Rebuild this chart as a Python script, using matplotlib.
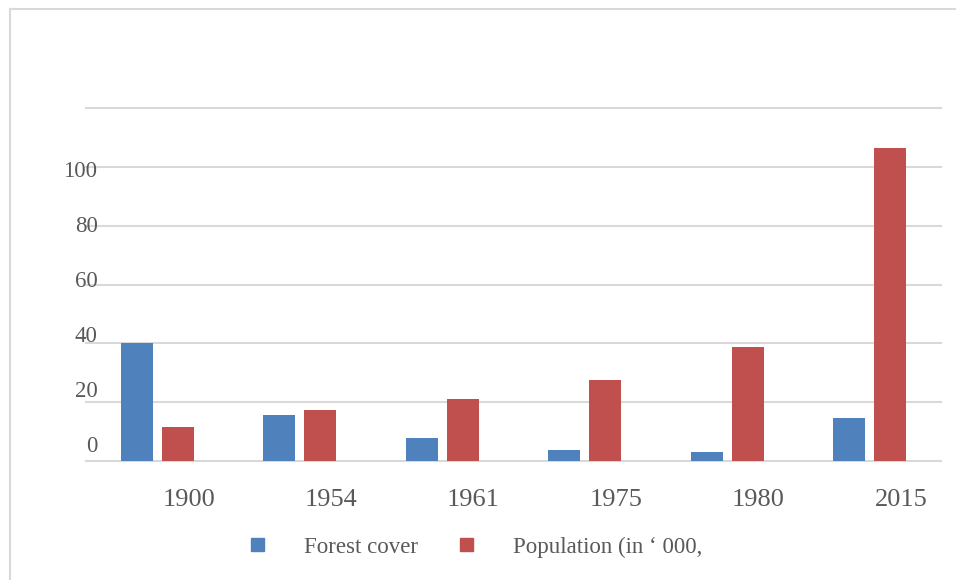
import numpy as np
import matplotlib
matplotlib.use('Agg')
import matplotlib.pyplot as plt
from matplotlib.patches import Patch
from matplotlib.lines import Line2D

plt.rcParams['font.family'] = ['Liberation Serif', 'DejaVu Serif']

years = ['1900', '1954', '1961', '1975', '1980', '2015']
forest_cover = [40, 15.7, 7.8, 4, 3, 14.7]
population = [11.7, 17.5, 21, 27.5, 38.8, 106.2]
ytick_vals = [0, 20, 40, 60, 80, 100]

BLUE = '#4F81BD'
RED = '#C0504D'
TEXT = '#595959'
GRID = '#D9D9D9'

fig = plt.figure(figsize=(9.56, 5.8), dpi=100)
ax = fig.add_axes([86 / 956, 1 - 461.3 / 580, 855 / 956, (461.3 - 107.7) / 580])

x = np.arange(len(years))
w = 0.2246
off = 0.144
ax.bar(x - off, forest_cover, w, color=BLUE, zorder=3)
ax.bar(x + off, population, w, color=RED, zorder=3)

ax.set_xlim(-0.5, len(years) - 0.5)
ax.set_ylim(0, 120)

# horizontal gridlines
for g in range(0, 121, 20):
    ax.axhline(g, color=GRID, lw=1.5, zorder=1, clip_on=False)

for s in ax.spines.values():
    s.set_visible(False)

ax.set_yticks([])
# y labels sit a little off their gridlines, as in the original
for v in ytick_vals:
    ax.text(0.0135, v * 0.935 + 4.9, str(v), transform=ax.get_yaxis_transform(),
            ha='right', va='center', fontsize=16.5, color=TEXT)

ax.set_xticks(x + 0.22)
ax.set_xticklabels(years, fontsize=19, color=TEXT)
ax.tick_params(axis='x', length=0, pad=20)

# chart border (top and left only)
fig.add_artist(Line2D([10 / 956, 10 / 956], [0, 1 - 9 / 580], transform=fig.transFigure,
                      color=GRID, lw=1.5))
fig.add_artist(Line2D([10 / 956, 1], [1 - 9 / 580, 1 - 9 / 580], transform=fig.transFigure,
                      color=GRID, lw=1.5))

handles = [Patch(color=BLUE), Patch(color=RED)]
leg = fig.legend(handles, ['Forest cover', 'Population (in \u2018 000,'], ncol=2,
                 loc='center left', bbox_to_anchor=(251 / 956, 1 - 547 / 580),
                 frameon=False, fontsize=16.5, handlelength=0.55, handleheight=0.55,
                 handletextpad=1.75, columnspacing=1.85, borderpad=0, borderaxespad=0)
for t in leg.get_texts():
    t.set_color(TEXT)

fig.savefig('out.png', dpi=100, facecolor='white')
